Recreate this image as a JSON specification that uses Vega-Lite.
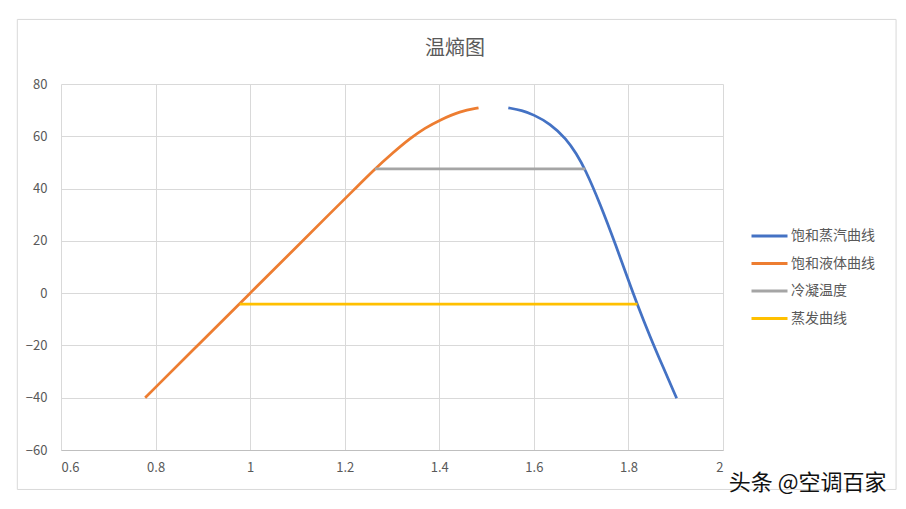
{
  "$schema": "https://vega.github.io/schema/vega-lite/v6.json",
  "autosize": "none",
  "width": 662,
  "height": 366,
  "padding": {"left": 61, "top": 84, "right": 183, "bottom": 59},
  "background": "white",
  "title": {
    "text": "温熵图",
    "fontSize": 20,
    "font": "Noto Sans CJK SC",
    "fontWeight": "normal",
    "color": "#595959",
    "anchor": "middle",
    "dx": 63,
    "offset": -40
  },
  "config": {
    "view": {"stroke": null},
    "font": "Noto Sans CJK SC"
  },
  "datasets": {
    "curves": [
      {"series": "饱和蒸汽曲线", "s": 1.546, "t": 70.9},
      {"series": "饱和蒸汽曲线", "s": 1.575, "t": 69.9},
      {"series": "饱和蒸汽曲线", "s": 1.599, "t": 68.3},
      {"series": "饱和蒸汽曲线", "s": 1.634, "t": 64.9},
      {"series": "饱和蒸汽曲线", "s": 1.669, "t": 59.0},
      {"series": "饱和蒸汽曲线", "s": 1.69, "t": 53.3},
      {"series": "饱和蒸汽曲线", "s": 1.708, "t": 47.6},
      {"series": "饱和蒸汽曲线", "s": 1.74, "t": 34.3},
      {"series": "饱和蒸汽曲线", "s": 1.775, "t": 17.5},
      {"series": "饱和蒸汽曲线", "s": 1.80, "t": 4.9},
      {"series": "饱和蒸汽曲线", "s": 1.817, "t": -3.5},
      {"series": "饱和蒸汽曲线", "s": 1.846, "t": -16.8},
      {"series": "饱和蒸汽曲线", "s": 1.874, "t": -28.6},
      {"series": "饱和蒸汽曲线", "s": 1.902, "t": -40.2},
      {"series": "饱和液体曲线", "s": 0.778, "t": -40.0},
      {"series": "饱和液体曲线", "s": 0.9, "t": -18.0},
      {"series": "饱和液体曲线", "s": 1.0, "t": 0.0},
      {"series": "饱和液体曲线", "s": 1.1, "t": 18.0},
      {"series": "饱和液体曲线", "s": 1.169, "t": 30.5},
      {"series": "饱和液体曲线", "s": 1.22, "t": 39.6},
      {"series": "饱和液体曲线", "s": 1.264, "t": 47.5},
      {"series": "饱和液体曲线", "s": 1.3, "t": 53.4},
      {"series": "饱和液体曲线", "s": 1.338, "t": 59.2},
      {"series": "饱和液体曲线", "s": 1.37, "t": 63.2},
      {"series": "饱和液体曲线", "s": 1.401, "t": 66.2},
      {"series": "饱和液体曲线", "s": 1.444, "t": 69.6},
      {"series": "饱和液体曲线", "s": 1.483, "t": 70.9},
      {"series": "冷凝温度", "s": 1.264, "t": 47.5},
      {"series": "冷凝温度", "s": 1.709, "t": 47.5},
      {"series": "蒸发曲线", "s": 0.978, "t": -4.2},
      {"series": "蒸发曲线", "s": 1.819, "t": -4.2}
    ],
    "frame": [{"x1": 0.5076, "x2": 2.366, "y1": 104.7, "y2": -75.1}],
    "mark": [{"s": 2.179, "t": -72.7, "label": "头条 @空调百家"}]
  },
  "layer": [
    {
      "data": {"name": "frame"},
      "mark": {"type": "rect", "fill": null, "stroke": "#D9D9D9", "strokeWidth": 1, "clip": false},
      "encoding": {
        "x": {"field": "x1", "type": "quantitative", "scale": {"domain": [0.6, 2], "nice": false, "zero": false}},
        "x2": {"field": "x2"},
        "y": {"field": "y1", "type": "quantitative", "scale": {"domain": [-60, 80], "nice": false, "zero": false}},
        "y2": {"field": "y2"}
      }
    },
    {
      "data": {"name": "curves"},
      "mark": {"type": "line", "strokeWidth": 2.75, "interpolate": "basis", "clip": false},
      "encoding": {
        "x": {
          "field": "s", "type": "quantitative",
          "scale": {"domain": [0.6, 2], "nice": false, "zero": false},
          "axis": {
            "title": null,
            "values": [0.6, 0.8, 1, 1.2, 1.4, 1.6, 1.8, 2],
            "format": "~g",
            "ticks": false,
            "grid": true,
            "gridColor": "#D9D9D9",
            "domainColor": "#BFBFBF",
            "labelColor": "#595959",
            "labelFontSize": 13,
            "labelPadding": 11,
            "labelFont": "Noto Sans CJK SC"
          }
        },
        "y": {
          "field": "t", "type": "quantitative",
          "scale": {"domain": [-60, 80], "nice": false, "zero": false},
          "axis": {
            "title": null,
            "values": [-60, -40, -20, 0, 20, 40, 60, 80],
            "ticks": false,
            "domain": false,
            "grid": true,
            "gridColor": "#D9D9D9",
            "labelColor": "#595959",
            "labelFontSize": 13,
            "labelPadding": 14,
            "labelFont": "Noto Sans CJK SC"
          }
        },
        "color": {
          "field": "series", "type": "nominal",
          "scale": {
            "domain": ["饱和蒸汽曲线", "饱和液体曲线", "冷凝温度", "蒸发曲线"],
            "range": ["#4472C4", "#ED7D31", "#A5A5A5", "#FFC000"]
          },
          "legend": {
            "title": null,
            "orient": "none",
            "legendX": 689,
            "legendY": 144,
            "symbolType": "stroke",
            "symbolSize": 1296,
            "symbolStrokeWidth": 3,
            "clipHeight": 16,
            "rowPadding": 11.5,
            "labelOffset": 2,
            "labelFontSize": 14,
            "labelColor": "#595959",
            "labelFont": "Noto Sans CJK SC"
          }
        },
        "order": {"field": "s", "type": "quantitative"}
      }
    },
    {
      "data": {"name": "mark"},
      "mark": {"type": "text", "fontSize": 22, "fill": "#111111", "align": "center", "baseline": "middle", "clip": false, "font": "Noto Sans CJK SC"},
      "encoding": {
        "x": {"field": "s", "type": "quantitative"},
        "y": {"field": "t", "type": "quantitative"},
        "text": {"field": "label"}
      }
    }
  ]
}
